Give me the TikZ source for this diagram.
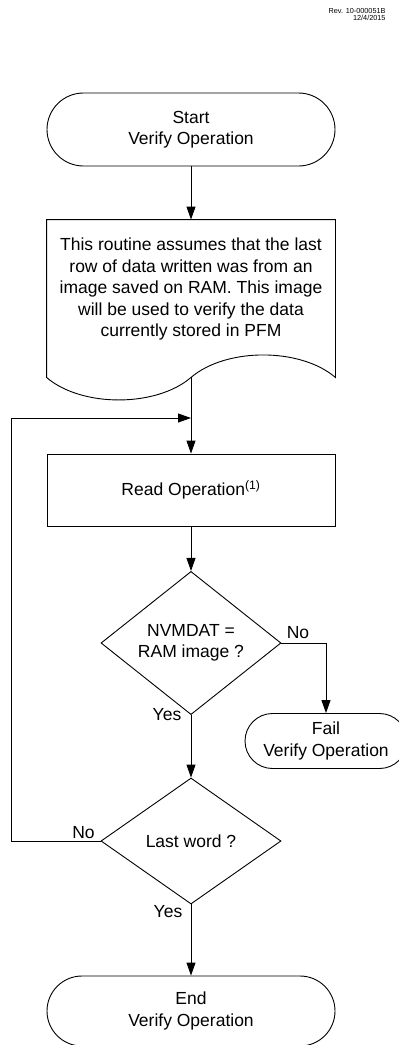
\documentclass[tikz,border=0pt]{standalone}
\usepackage{fontspec}
\setmainfont{Liberation Sans}
\usetikzlibrary{shapes.geometric,shapes.misc,arrows.meta}
\begin{document}
\begin{tikzpicture}[x=1pt,y=-1pt,
  line width=0.9pt,
  every node/.style={font=\fontsize{17.5}{21.5}\selectfont, align=center, inner sep=0pt},
  term/.style={draw, rounded rectangle, line width=0.9pt},
  procbox/.style={draw, rectangle, minimum width=288pt, minimum height=72pt},
  dec/.style={draw, diamond, minimum width=180pt, minimum height=126pt},
  arr/.style={-{Triangle[length=13pt,width=9pt]}},
  lbl/.style={font=\fontsize{17.5}{21.5}\selectfont},
  rev/.style={font=\fontsize{7.3}{8}\selectfont, anchor=east}]
\useasboundingbox (0,0) rectangle (399,1045);
\node[rev] (rev1) at (386,10.5) {Rev. 10-000051B};
\node[rev] (rev2) at (386,17.5) {12/4/2015};

\node[term, minimum width=288pt, minimum height=73pt] (start) at (191,129.5) {Start\\Verify Operation};

\node[minimum width=288pt, minimum height=157pt] (doc) at (191,298.5) {};
\node (doctext) at (191,289) {This routine assumes that the last\\row of data written was from an\\image saved on RAM. This image\\will be used to verify the data\\currently stored in PFM};
\draw (doc.north west) -- (doc.north east) -- (doc.south east)
  .. controls +(-35,-30) and +(35,-30) .. (doc.south)
  .. controls +(-35,30) and +(35,30) .. (doc.south west) -- cycle;

\node[procbox] (read) at (191,490) {Read Operation\textsuperscript{(1)}};
\node[dec] (d1) at (191,643) {NVMDAT =\\RAM image ?};
\node[term, minimum width=162pt, minimum height=55pt] (fail) at (326,741) {Fail\\Verify Operation};
\node[dec] (d2) at (191,841) {Last word ?};
\node[term, minimum width=288pt, minimum height=70pt] (end) at (191,1011) {End\\Verify Operation};

\coordinate (merge) at (191,418);
\coordinate (loopx) at (11,418);

\draw[arr] (start.south) -- (doc.north);
\draw[arr] (doc.south) -- (read.north);
\draw[arr] (read.south) -- (d1.north);
\draw[arr] (d1.east) -| (fail.north);
\draw[arr] (d1.south) -- (d2.north);
\draw[arr] (d2.south) -- (end.north);
\draw[arr] (d2.west) -| (loopx) -- (merge);

\node[lbl] (no1) at (298,633) {No};
\node[lbl] (yes1) at (167,715) {Yes};
\node[lbl] (no2) at (83.5,833) {No};
\node[lbl] (yes2) at (168,912) {Yes};
\end{tikzpicture}
\end{document}
